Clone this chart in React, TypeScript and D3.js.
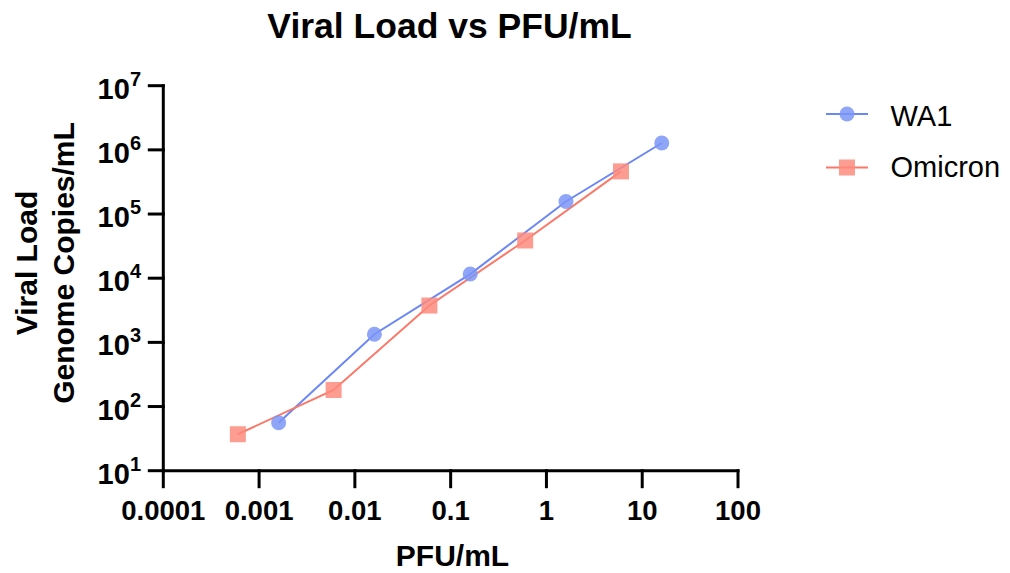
import React from "react";
import * as d3 from "d3";

const wa1X = [0.0016, 0.016, 0.16, 1.6, 16];
const wa1Y = [56, 1340, 11600, 157000, 1280000];
const omiX = [0.0006, 0.006, 0.06, 0.6, 6];
const omiY = [37, 181, 3750, 38700, 462000];
const xTicks = [0.0001, 0.001, 0.01, 0.1, 1, 10, 100];
const xTickLabels = ["0.0001", "0.001", "0.01", "0.1", "1", "10", "100"];
const yTicks = [1e1, 1e2, 1e3, 1e4, 1e5, 1e6, 1e7];
const yTickExps = ["1", "2", "3", "4", "5", "6", "7"];
const seriesNames = ["WA1", "Omicron"];

const FONT = "'Liberation Sans', Arial, Helvetica, sans-serif";
const BLUE_LINE = "#6b87f4";
const BLUE_FILL = "#7b95f7";
const RED_LINE = "#fb7868";
const RED_FILL = "#fd8b7c";

export default function App() {
  const W = 1010;
  const H = 573;
  const x = d3.scaleLog().domain([0.0001, 100]).range([163.3, 738]);
  const y = d3.scaleLog().domain([10, 1e7]).range([470.7, 85.7]);
  const line = d3
    .line<[number, number]>()
    .x((d) => x(d[0]))
    .y((d) => y(d[1]));
  const wa1 = wa1X.map((v, i) => [v, wa1Y[i]] as [number, number]);
  const omi = omiX.map((v, i) => [v, omiY[i]] as [number, number]);
  const x0 = x(0.0001);
  const y0 = y(10);
  const sq = 16;

  return (
    <svg
      width={W}
      height={H}
      style={{ position: "absolute", left: 0, top: 0, background: "#fff" }}
      fontFamily={FONT}
    >
      <rect width={W} height={H} fill="#fff" />
      <text x={449.5} y={37.5} textAnchor="middle" fontSize={35.5} fontWeight="bold">
        Viral Load vs PFU/mL
      </text>

      {/* axes */}
      <g stroke="#000" strokeWidth={3} fill="none" strokeLinecap="square">
        <line x1={x0} y1={y(1e7)} x2={x0} y2={y0} />
        <line x1={x0} y1={y0} x2={x(100)} y2={y0} />
        {yTicks.map((t, i) => (
          <line key={"yt" + i} x1={x0 - 14} x2={x0} y1={y(t)} y2={y(t)} />
        ))}
        {xTicks.map((t, i) => (
          <line key={"xt" + i} x1={x(t)} x2={x(t)} y1={y0} y2={y0 + 16} />
        ))}
      </g>

      {yTicks.map((t, i) => (
        <text
          key={"yl" + i}
          x={141}
          y={y(t) + 13}
          textAnchor="end"
          fontSize={29}
          fontWeight="bold"
        >
          10
          <tspan fontSize={20} dy={-13}>
            {yTickExps[i]}
          </tspan>
        </text>
      ))}
      {xTicks.map((t, i) => (
        <text
          key={"xl" + i}
          x={x(t)}
          y={519.5}
          textAnchor="middle"
          fontSize={27.5}
          fontWeight="bold"
        >
          {xTickLabels[i]}
        </text>
      ))}

      <text x={452.5} y={566} textAnchor="middle" fontSize={30} fontWeight="bold">
        PFU/mL
      </text>
      <g transform="translate(36.5,263) rotate(-90)">
        <text textAnchor="middle" fontSize={30} fontWeight="bold">
          Viral Load
        </text>
      </g>
      <g transform="translate(73.5,263) rotate(-90)">
        <text textAnchor="middle" fontSize={30} fontWeight="bold">
          Genome Copies/mL
        </text>
      </g>

      {/* series */}
      <path d={line(wa1) || ""} fill="none" stroke={BLUE_LINE} strokeWidth={2} />
      <path d={line(omi) || ""} fill="none" stroke={RED_LINE} strokeWidth={2} />
      {wa1.map((d, i) => (
        <circle
          key={"c" + i}
          cx={x(d[0])}
          cy={y(d[1])}
          r={7.5}
          fill={BLUE_FILL}
          fillOpacity={0.85}
        />
      ))}
      {omi.map((d, i) => (
        <rect
          key={"s" + i}
          x={x(d[0]) - sq / 2}
          y={y(d[1]) - sq / 2}
          width={sq}
          height={sq}
          fill={RED_FILL}
          fillOpacity={0.85}
        />
      ))}

      {/* legend */}
      <line x1={826} x2={868} y1={114} y2={114} stroke={BLUE_LINE} strokeWidth={2} />
      <circle cx={847} cy={114} r={7.5} fill={BLUE_FILL} fillOpacity={0.85} />
      <text x={890.5} y={125.7} fontSize={29}>
        {seriesNames[0]}
      </text>
      <line x1={826} x2={868} y1={167.5} y2={167.5} stroke={RED_LINE} strokeWidth={2} />
      <rect x={847 - sq / 2} y={167.5 - sq / 2} width={sq} height={sq} fill={RED_FILL} fillOpacity={0.85} />
      <text x={890.5} y={176.5} fontSize={29}>
        {seriesNames[1]}
      </text>
    </svg>
  );
}
